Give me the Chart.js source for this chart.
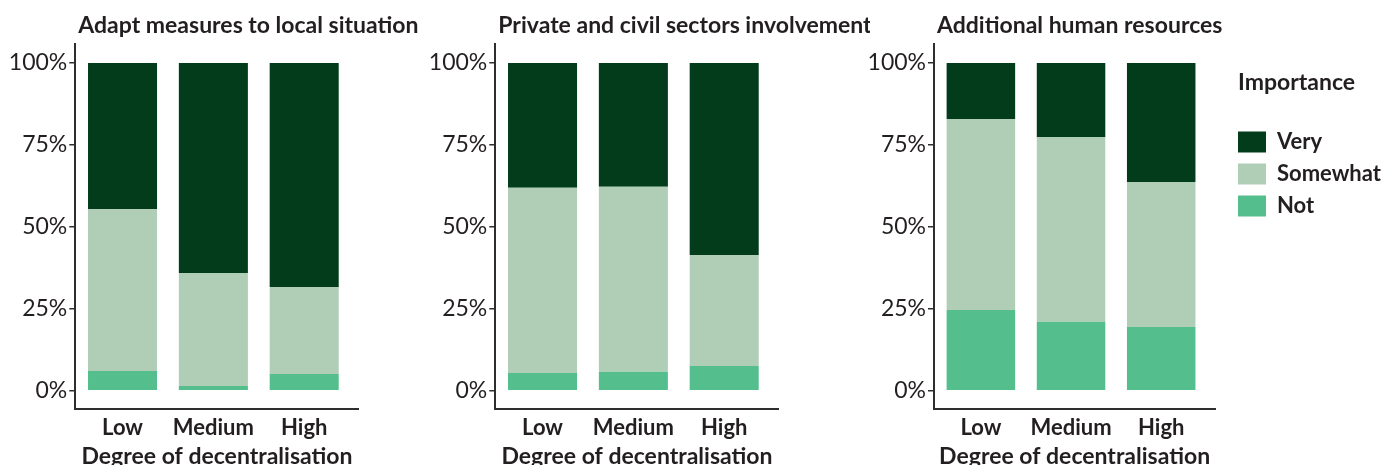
<!DOCTYPE html>
<html>
<head>
<meta charset="utf-8">
<script src="https://cdn.jsdelivr.net/npm/chart.js@4.4.1/dist/chart.umd.min.js"></script>
<style>
  body { margin: 0; background: #fff; }
  #wrap { position: relative; width: 1386px; height: 465px; overflow: hidden; }
  canvas { position: absolute; top: 0; }
</style>
</head>
<body>
<div id="wrap">
  <canvas id="panel1" width="420" height="465" style="left:0px"></canvas>
  <canvas id="panel2" width="450" height="465" style="left:420px"></canvas>
  <canvas id="panel3" width="370" height="465" style="left:860px"></canvas>
  <canvas id="legend" width="158" height="465" style="left:1228px"></canvas>
</div>
<script>
const categories = ['Low', 'Medium', 'High'];
const yTickValues = [0, 25, 50, 75, 100];

// share of answers (%), per degree of decentralisation
const adaptNot = [6.0, 1.4, 5.1];
const adaptSomewhat = [49.4, 34.5, 26.5];
const adaptVery = [44.6, 64.1, 68.4];

const privateNot = [5.4, 5.8, 7.5];
const privateSomewhat = [56.5, 56.4, 33.9];
const privateVery = [38.1, 37.8, 58.6];

const humanNot = [24.6, 21.0, 19.4];
const humanSomewhat = [58.3, 56.4, 44.3];
const humanVery = [17.1, 22.6, 36.3];

const seriesNames = ['Very', 'Somewhat', 'Not'];
const seriesColors = ['#023c1b', '#b0cdb6', '#54be8d'];

const fontFamily = 'Lato';
const textColor = '#231f20';
const axisColor = '#2e2e2e';

// draws a left aligned panel title (ggplot style)
const panelTitle = {
  id: 'panelTitle',
  afterDraw(chart, args, opts) {
    const ctx = chart.ctx;
    ctx.save();
    ctx.font = 'bold 23px ' + fontFamily;
    ctx.fillStyle = textColor;
    ctx.textAlign = 'left';
    ctx.textBaseline = 'alphabetic';
    const x = opts.x !== undefined ? opts.x : chart.chartArea.left + 3;
    ctx.fillText(opts.text, x, opts.y);
    ctx.restore();
  }
};

function points(values) {
  return values.map((v, i) => ({ x: i + 1, y: v }));
}

function makePanel(id, title, notVals, somewhatVals, veryVals, axisWidth, padRight) {
  new Chart(document.getElementById(id), {
    type: 'bar',
    data: {
      datasets: [
        { label: seriesNames[2], data: points(notVals), backgroundColor: seriesColors[2] },
        { label: seriesNames[1], data: points(somewhatVals), backgroundColor: seriesColors[1] },
        { label: seriesNames[0], data: points(veryVals), backgroundColor: seriesColors[0] }
      ]
    },
    options: {
      responsive: false,
      animation: false,
      layout: { padding: { top: 44, right: padRight, left: 0, bottom: 0 } },
      datasets: { bar: { categoryPercentage: 1, barPercentage: 0.76 } },
      plugins: {
        legend: { display: false },
        tooltip: { enabled: false },
        panelTitle: { text: title, y: 33 }
      },
      scales: {
        x: {
          type: 'linear',
          stacked: true,
          offset: false,
          min: 0.48,
          max: 3.6,
          afterBuildTicks: s => { s.ticks = categories.map((c, i) => ({ value: i + 1 })); },
          afterFit: s => { s.height = 56; },
          grid: { display: false, drawTicks: false },
          border: { display: true, color: axisColor, width: 2 },
          ticks: {
            autoSkip: false,
            maxRotation: 0,
            padding: 6,
            color: textColor,
            font: { family: fontFamily, size: 22, weight: 'bold' },
            callback: v => categories[v - 1]
          },
          title: {
            display: true,
            text: 'Degree of decentralisation',
            color: textColor,
            font: { family: fontFamily, size: 23, weight: 'bold', lineHeight: 1 },
            padding: { top: 0, bottom: -3 }
          }
        },
        y: {
          stacked: true,
          min: -5.6,
          max: 105.8,
          afterBuildTicks: s => { s.ticks = yTickValues.map(v => ({ value: v })); },
          afterFit: s => { s.width = axisWidth; },
          grid: { drawOnChartArea: false, drawTicks: true, tickLength: 6, color: axisColor, lineWidth: 1.5 },
          border: { display: true, color: axisColor, width: 2 },
          ticks: {
            padding: 2,
            color: textColor,
            font: { family: fontFamily, size: 23 },
            callback: v => v + '%'
          }
        }
      }
    },
    plugins: [panelTitle]
  });
}

makePanel('panel1', 'Adapt measures to local situation', adaptNot, adaptSomewhat, adaptVery, 75.3, 61.3);
makePanel('panel2', 'Private and civil sectors involvement', privateNot, privateSomewhat, privateVery, 75.3, 91.3);
makePanel('panel3', 'Additional human resources', humanNot, humanSomewhat, humanVery, 74, 14.7);

// legend on its own canvas, right of the last panel
new Chart(document.getElementById('legend'), {
  type: 'bar',
  data: {
    labels: [],
    datasets: seriesNames.map((n, i) => ({ label: n, data: [], backgroundColor: seriesColors[i] }))
  },
  options: {
    responsive: false,
    animation: false,
    layout: { padding: { top: 121 } },
    scales: { x: { display: false }, y: { display: false } },
    plugins: {
      tooltip: { enabled: false },
      legend: {
        position: 'top',
        align: 'start',
        onClick: null,
        labels: {
          boxWidth: 28,
          boxHeight: 21,
          padding: 10,
          color: textColor,
          font: { family: fontFamily, size: 22, weight: 'bold' }
        }
      },
      panelTitle: { text: 'Importance', x: 10, y: 90 }
    }
  },
  plugins: [panelTitle]
});
</script>
</body>
</html>
